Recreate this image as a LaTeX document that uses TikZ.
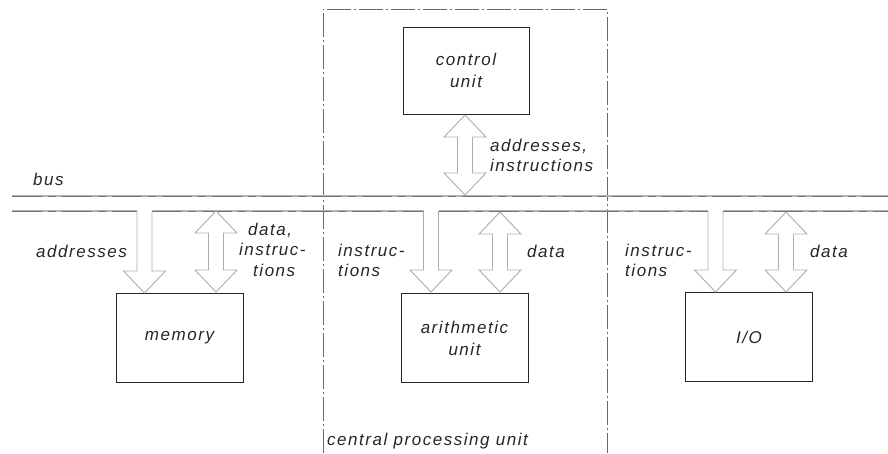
\documentclass[tikz,border=0pt]{standalone}
\usepackage{fontspec}
\setmainfont{Liberation Sans}[LetterSpace=9.0]
\newcommand\lbltext{\fontsize{17}{22}\selectfont\itshape}
\newcommand\fatdown[3]{%
  \draw[fat] (#1-7.5,#2) -- (#1-7.5,#3-22) -- (#1-21,#3-22) -- (#1,#3) -- (#1+21,#3-22) -- (#1+7.5,#3-22) -- (#1+7.5,#2);}
\newcommand\fatboth[3]{%
  \draw[fat] (#1,#2) -- (#1+21,#2+22) -- (#1+7.5,#2+22) -- (#1+7.5,#3-22) -- (#1+21,#3-22) -- (#1,#3) -- (#1-21,#3-22) -- (#1-7.5,#3-22) -- (#1-7.5,#2+22) -- (#1-21,#2+22) -- cycle;}
\tikzset{
  unitbox/.style={draw=black!85, line width=0.9pt, minimum width=127pt, minimum height=89pt, inner sep=0pt, align=center, font=\lbltext, text=black!85},
  lbl/.style={font=\lbltext, inner sep=0pt, text=black!85},
  fat/.style={draw=black!32, line width=0.9pt, fill=white, line join=miter},
  busline/.style={draw=black!30, line width=1.3pt},
  busdash/.style={draw=black!55, line width=0.6pt, dash pattern=on 30pt off 6pt on 8pt off 6pt},
  cpuframe/.style={draw=black!60, line width=0.7pt, dash pattern=on 24pt off 3pt on 2pt off 3pt},
}
\begin{document}
\begin{tikzpicture}[x=1pt,y=-1pt]
\useasboundingbox (0,0) rectangle (888,453);
% CPU frame
\draw[cpuframe] (323,453) -- (323,9) -- (607,9) -- (607,453);
% bus
\draw[busline] (12,196) -- (888,196);
\draw[busline] (12,211) -- (137,211);
\draw[busline] (152,211) -- (423.5,211);
\draw[busline] (438.5,211) -- (708,211);
\draw[busline] (723,211) -- (888,211);
\draw[busdash] (12,196) -- (888,196);
\draw[busdash] (12,211) -- (137,211);
\draw[busdash] (152,211) -- (423.5,211);
\draw[busdash] (438.5,211) -- (708,211);
\draw[busdash] (723,211) -- (888,211);
% boxes
\node[unitbox, minimum width=126pt, minimum height=87pt] (ctrl) at (466,70.5) {control\\unit};
\node[unitbox] (mem) at (179.5,337.5) {memory};
\node[unitbox] (arith) at (464.5,338) {arithmetic\\unit};
\node[unitbox] (io) at (749,337) {I/O};
% fat arrows
\fatboth{465}{115}{195}
\fatdown{144.5}{211}{293}
\fatboth{216}{211}{292}
\fatdown{431}{211}{292}
\fatboth{500}{212}{292}
\fatdown{715.5}{211}{292}
\fatboth{786}{212}{292}
% labels
\node[lbl, anchor=base west] (lbus) at (33,185) {bus};
\node[lbl, anchor=base west] (lcua) at (490,151) {addresses,};
\node[lbl, anchor=base west] (lcub) at (490,171) {instructions};
\node[lbl, anchor=base west] (lmaddr) at (36,257) {addresses};
\node[lbl, anchor=base west] (lmda) at (248,235) {data,};
\node[lbl, anchor=base west] (lmdb) at (239,255) {instruc-};
\node[lbl, anchor=base west] (lmdc) at (253,276) {tions};
\node[lbl, anchor=base west] (lain) at (338,256) {instruc-};
\node[lbl, anchor=base west] (laio) at (338,276) {tions};
\node[lbl, anchor=base west] (lad) at (527,257) {data};
\node[lbl, anchor=base west] (lioin) at (625,256) {instruc-};
\node[lbl, anchor=base west] (lioio) at (625,276) {tions};
\node[lbl, anchor=base west] (liod) at (810,257) {data};
\node[lbl, anchor=base west] (lcpu) at (327,445) {central processing unit};
\end{tikzpicture}
\end{document}
